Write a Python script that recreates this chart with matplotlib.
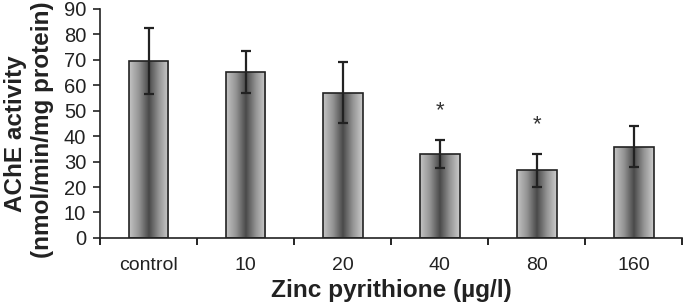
import matplotlib
matplotlib.use('Agg')
import matplotlib.pyplot as plt
import numpy as np
from matplotlib.colors import LinearSegmentedColormap

plt.rcParams['font.family'] = ['Liberation Sans', 'DejaVu Sans']

categories = ['control', '10', '20', '40', '80', '160']
activity = [69.5, 65.2, 57.0, 33.0, 26.5, 35.9]
errors = [13.0, 8.3, 12.0, 5.5, 6.5, 8.0]
significant = [False, False, False, True, True, False]

fig = plt.figure(figsize=(6.85, 3.07), dpi=100)
ax = fig.add_axes([0.146, 0.225, 0.85, 0.746])

x = np.arange(len(categories))
width = 0.41
bars = ax.bar(x, activity, width=width, color='none', edgecolor='#222222', linewidth=1.2, zorder=3)

# cylinder-like grey shading inside each bar
shade = LinearSegmentedColormap.from_list('shade', ['#c4c4c4', '#949494', '#4a4a4a', '#949494', '#cccccc'])
grad = np.linspace(0, 1, 256).reshape(1, -1)
for b in bars:
    im = ax.imshow(grad, cmap=shade, aspect='auto', zorder=2,
                   extent=[b.get_x(), b.get_x() + b.get_width(), 0, b.get_height()])
    im.set_clip_path(b)

ax.errorbar(x, activity, yerr=errors, fmt='none', ecolor='#222222', elinewidth=1.6,
            capsize=3.8, capthick=1.6, zorder=4)

for xi, v, e, s in zip(x, activity, errors, significant):
    if s:
        ax.text(xi, v + e + 11.5, '*', ha='center', va='center', fontsize=16, color='#333333')

ax.set_xlim(-0.5, len(categories) - 0.5)
ax.set_ylim(0, 90)
ax.set_yticks(range(0, 91, 10))
ax.set_xticks(x)
ax.set_xticklabels(categories)
ax.set_xticks(np.arange(-0.5, len(categories), 1), minor=True)
ax.tick_params(axis='x', which='major', length=0, labelsize=14, pad=14, colors='#222222')
ax.tick_params(axis='x', which='minor', length=5, width=1.2, direction='out')
ax.tick_params(axis='y', length=5, width=1.2, labelsize=14.5, pad=5, colors='#222222')
for sp in ['top', 'right']:
    ax.spines[sp].set_visible(False)
for sp in ['left', 'bottom']:
    ax.spines[sp].set_linewidth(1.2)
    ax.spines[sp].set_color('#222222')

fig.text(0.572, 1 - 290 / 307, 'Zinc pyrithione (µg/l)', fontsize=17.6, fontweight='bold',
         ha='center', va='center', color='#222222')
fig.text(16 / 685, 1 - 134 / 307, 'AChE activity', fontsize=17.5, fontweight='bold',
         rotation=90, ha='center', va='center', color='#222222')
fig.text(43 / 685, 1 - 130 / 307, '(nmol/min/mg protein)', fontsize=17.5, fontweight='bold',
         rotation=90, ha='center', va='center', color='#222222')

fig.savefig('out.png', dpi=100)
